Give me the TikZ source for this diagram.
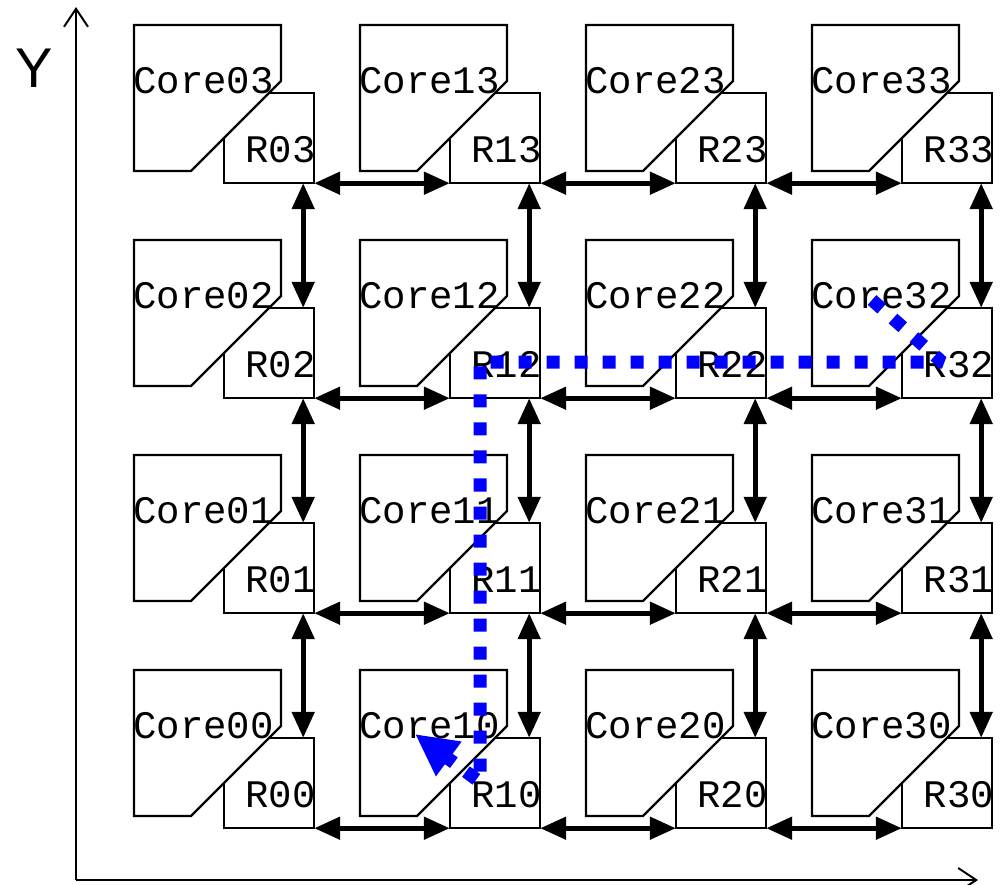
\documentclass[tikz,border=0pt]{standalone}
\usepackage{fontspec}
\newfontfamily\tilemono{Liberation Mono}
\newfontfamily\axisfont{Liberation Sans}
\usetikzlibrary{arrows.meta}
\begin{document}
\begin{tikzpicture}[x=1pt,y=-1pt,
  tile/.style={draw=black,line width=2.2pt,line join=miter},
  coretext/.style={anchor=base west,inner sep=0pt,font=\tilemono\fontsize{39}{39}\selectfont},
  rtext/.style={anchor=base east,inner sep=0pt,font=\tilemono\fontsize{39}{39}\selectfont},
  rbox/.style={rectangle,inner sep=0pt,minimum width=90pt,minimum height=90pt},
  link/.style={line width=5pt,{Triangle[length=26pt,width=22pt]}-{Triangle[length=26pt,width=22pt]}},
  axis/.style={line width=2pt,-{Straight Barb[length=18pt,width=24pt,line width=2pt]}},
  route/.style={draw=blue,line width=13pt,line join=bevel,dash pattern=on 13pt off 15pt,-{Triangle[length=42pt,width=40pt]}}
]
\useasboundingbox (0,0) rectangle (1001,884);
% axes
\coordinate (O) at (76,880);
\coordinate (ytip) at (76,7);
\coordinate (xtip) at (978,880);
\draw[axis] (O) -- (ytip);
\draw[axis] (O) -- (xtip);
\node[font=\axisfont\fontsize{56}{56}\selectfont,inner sep=0pt] (ylab) at (34,68) {Y};
% tiles
\foreach \i in {0,...,3} {
  \foreach \j in {0,...,3} {
    \pgfmathsetmacro\dx{\i*226}
    \pgfmathsetmacro\dy{(3-\j)*215}
    \begin{scope}[shift={(\dx,\dy)}]
      \draw[tile] (134,25) -- (281,25) -- (281,81) -- (191,171) -- (134,171) -- cycle;
      \draw[tile] (269,93) -- (314,93) -- (314,183) -- (224,183) -- (224,138);
      \node[coretext] (C\i\j) at (133,93) {Core\i\j};
      \node[rtext] (T\i\j) at (316,162) {R\i\j};
      \node[rbox] (R\i\j) at (269,138) {};
    \end{scope}
  }
}
% links
\foreach \i/\k in {0/1,1/2,2/3} {
  \foreach \j in {0,...,3} {
    \draw[link] (R\i\j.south east) -- (R\k\j.south west);
  }
}
\foreach \i in {0,...,3} {
  \foreach \j/\l in {3/2,2/1,1/0} {
    \draw[link] ([xshift=-11pt]R\i\j.south east) -- ([xshift=-11pt]R\i\l.north east);
  }
}
% route
\coordinate (p0) at (872,300);
\coordinate (p1) at (942,362);
\coordinate (p2) at (480,362);
\coordinate (p3) at (480,782);
\coordinate (p4) at (415,734);
\draw[route] (p0) -- (p1) -- (p2) -- (p3) -- (p4);
\end{tikzpicture}
\end{document}
